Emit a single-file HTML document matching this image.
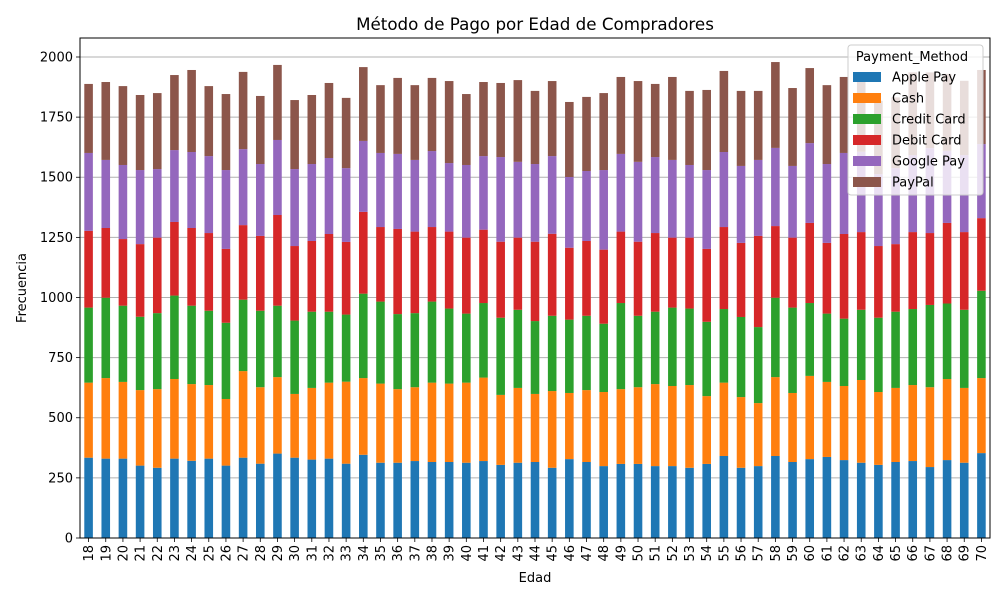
<!DOCTYPE html>
<html><head><meta charset="utf-8"><style>
html,body{margin:0;padding:0;background:#fff;}
svg{display:block;font-family:"DejaVu Sans","Liberation Sans",sans-serif;}
</style></head><body>
<svg id="chart" width="1000" height="600" viewBox="0 0 1000 600" xmlns="http://www.w3.org/2000/svg">
<rect width="1000" height="600" fill="#fff"/>
<text x="535" y="30" text-anchor="middle" font-size="16.7" fill="#000">Método de Pago por Edad de Compradores</text>
<g id="grid"></g><g id="bars"></g><g id="axes"></g><g id="legend"></g>
</svg>
<script>
const categories = [];
for (let a = 18; a <= 70; a++) categories.push(String(a));
const seriesNames = ["Apple Pay","Cash","Credit Card","Debit Card","Google Pay","PayPal"];
const applePay  = [334,330,330,301,292,330,321,330,301,334,309,351,334,326,330,309,346,313,313,320,316,316,313,320,304,313,316,292,328,316,299,308,308,299,299,292,308,341,292,299,341,316,328,337,324,313,304,316,320,295,324,313,353];
const cash      = [312,335,319,314,327,331,319,306,277,360,318,318,265,298,316,341,319,329,306,307,330,326,333,347,291,311,283,319,275,299,308,311,319,341,333,344,282,305,294,262,328,287,346,312,308,344,303,308,316,332,337,311,312];
const creditCard= [312,334,317,305,316,347,326,309,317,297,318,297,305,317,295,279,351,341,312,308,337,312,287,310,321,325,303,313,305,309,284,358,297,301,326,318,309,306,333,316,330,355,303,284,280,292,309,317,316,342,314,325,363];
const debitCard = [319,290,277,302,314,306,323,323,307,310,311,377,310,294,323,302,340,310,354,339,310,320,316,305,316,300,330,341,299,311,308,297,308,327,291,295,303,341,308,379,298,291,333,294,352,323,298,281,320,299,335,323,302];
const googlePay = [324,283,308,308,285,299,316,320,328,316,299,312,320,320,316,307,295,308,312,298,316,285,302,306,352,315,323,323,294,291,331,323,332,316,323,302,328,312,320,316,325,298,332,328,337,334,299,316,320,353,300,320,308];
const payPal    = [287,324,328,312,316,312,341,291,316,321,283,312,287,287,312,292,307,282,316,311,304,341,295,308,308,340,304,312,312,308,320,320,336,304,345,308,333,337,312,287,357,324,312,328,316,330,305,294,344,315,320,309,308];
const series = [applePay, cash, creditCard, debitCard, googlePay, payPal];
const colors = ["#1f77b4","#ff7f0e","#2ca02c","#d62728","#9467bd","#8c564b"];
const yTicks = [0,250,500,750,1000,1250,1500,1750,2000];

const L=80, R=990, T=38, B=538, YMAX=2079;
const NS="http://www.w3.org/2000/svg";
const n = categories.length;
const step = (R-L)/n;
function xc(i){ return L + step*(i+0.5); }
function y(v){ return B - v*(B-T)/YMAX; }
function mk(tag, attrs, parent){ const e=document.createElementNS(NS,tag); for(const k in attrs) e.setAttribute(k,attrs[k]); parent.appendChild(e); return e; }

const grid=document.getElementById('grid'), bars=document.getElementById('bars'), axes=document.getElementById('axes'), legend=document.getElementById('legend');
yTicks.forEach(t=>{
  const gl=mk('line',{x1:L,x2:R,y1:y(t),y2:y(t),stroke:'#b0b0b0','stroke-width':1},grid);
  
  
  const tk=mk('line',{x1:L-4,x2:L,y1:y(t),y2:y(t),stroke:'#000','stroke-width':0.8},axes);
  
  
  const tl=mk('text',{x:L-7,y:y(t)+4.5,'text-anchor':'end','font-size':13,fill:'#000'},axes);
  tl.textContent=t;
  
  
});
const bw=step*0.5;
for(let i=0;i<n;i++){
  let cum=0;
  for(let s=0;s<series.length;s++){
    const v=series[s][i];
    const r=mk('rect',{x:xc(i)-bw/2,y:y(cum+v),width:bw,height:y(cum)-y(cum+v),fill:colors[s]},bars);
    
    
    cum+=v;
  }
  const tk=mk('line',{x1:xc(i),x2:xc(i),y1:B,y2:B+4,stroke:'#000','stroke-width':0.8},axes);
  
  
  const tl=mk('text',{x:0,y:0,'text-anchor':'end','font-size':13,fill:'#000',transform:`translate(${xc(i)+4.5},${B+7}) rotate(-90)`},axes);
  tl.textContent=categories[i];
  
  
}
const frame=mk('rect',{x:L,y:T,width:R-L,height:B-T,fill:'none',stroke:'#000','stroke-width':1},axes);


const xt=mk('text',{x:(L+R)/2,y:582,'text-anchor':'middle','font-size':13,fill:'#000'},axes);
xt.textContent='Edad';


const yt=mk('text',{x:0,y:0,'text-anchor':'middle','font-size':13,fill:'#000',transform:`translate(26,${(T+B)/2}) rotate(-90)`},axes);
yt.textContent='Frecuencia';



const lb=mk('rect',{x:848,y:45,width:135,height:150,rx:3,fill:'#fff','fill-opacity':0.8,stroke:'#ccc','stroke-width':1},legend);


const lt=mk('text',{x:912,y:61,'text-anchor':'middle','font-size':13,fill:'#000'},legend);
lt.textContent='Payment_Method';


seriesNames.forEach((nm,s)=>{
  const cy=77+s*21;
  const g=mk('g',{},legend);
  
  
  mk('rect',{x:853,y:cy-5,width:28,height:10,fill:colors[s]},g);
  const t=mk('text',{x:892,y:cy+4.5,'font-size':13,fill:'#000'},g);
  t.textContent=nm;
});
</script>
</body></html>
